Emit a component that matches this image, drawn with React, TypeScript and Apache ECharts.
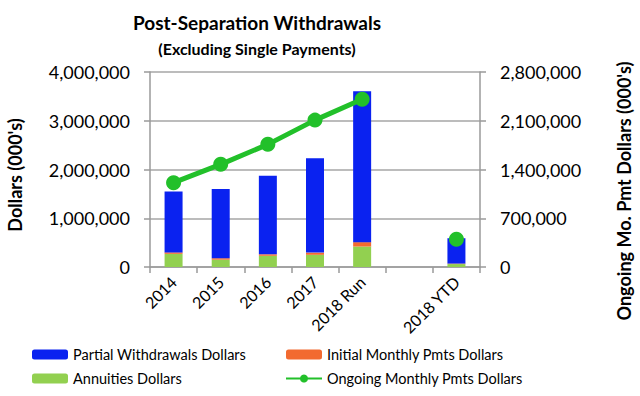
import React, { useEffect, useRef } from "react";
import * as echarts from "echarts";

const categories = ["2014", "2015", "2016", "2017", "2018 Run", "", "2018 YTD"];
const annuities = [270000, 150000, 230000, 250000, 420000, null, 60000];
const initialMonthly = [30000, 30000, 30000, 45000, 90000, null, 10000];
const partial = [1250000, 1420000, 1610000, 1935000, 3095000, null, 520000];
const ongoing = [1211000, 1474000, 1761000, 2109000, 2409000, null, 400000];

const FONT = "Lato";
const fmt = (v: number) => v.toLocaleString("en-US");

export default function App() {
  const ref = useRef<HTMLDivElement>(null);
  useEffect(() => {
    if (!ref.current) return;
    const chart = echarts.init(ref.current, null, { renderer: "svg" });
    const axisLineStyle = { color: "#9a9a9a", width: 1.5 };
    chart.setOption({
      animation: false,
      backgroundColor: "#ffffff",
      textStyle: { fontFamily: FONT },
      grid: { left: 150, right: 160, top: 72, bottom: 129 },
      graphic: [
        {
          type: "text",
          x: 257,
          y: 22,
          style: {
            text: "Post-Separation Withdrawals",
            font: `bold 19px ${FONT}`,
            fill: "#000",
            textAlign: "center",
            textVerticalAlign: "middle",
          },
        },
        {
          type: "text",
          x: 257,
          y: 48,
          style: {
            text: "(Excluding Single Payments)",
            font: `bold 16px ${FONT}`,
            fill: "#000",
            textAlign: "center",
            textVerticalAlign: "middle",
          },
        },
        {
          type: "text",
          x: 15,
          y: 175,
          rotation: Math.PI / 2,
          style: {
            text: "Dollars (000's)",
            font: `bold 18px ${FONT}`,
            fill: "#000",
            textAlign: "center",
            textVerticalAlign: "middle",
          },
        },
        {
          type: "text",
          x: 624,
          y: 191,
          rotation: Math.PI / 2,
          style: {
            text: "Ongoing Mo. Pmt Dollars (000's)",
            font: `bold 18px ${FONT}`,
            fill: "#000",
            textAlign: "center",
            textVerticalAlign: "middle",
          },
        },
      ],
      legend: [
        {
          orient: "vertical",
          left: 27,
          top: 342,
          itemWidth: 36,
          itemHeight: 10,
          itemGap: 9,
          textStyle: { fontFamily: FONT, fontSize: 14.5, color: "#000" },
          data: ["Partial Withdrawals Dollars", "Annuities Dollars"],
        },
        {
          orient: "vertical",
          left: 280,
          top: 342,
          itemWidth: 36,
          itemHeight: 10,
          itemGap: 9,
          textStyle: { fontFamily: FONT, fontSize: 14.5, color: "#000" },
          data: ["Initial Monthly Pmts Dollars", "Ongoing Monthly Pmts Dollars"],
        },
      ],
      xAxis: {
        type: "category",
        data: categories,
        axisLine: { lineStyle: axisLineStyle },
        axisTick: { show: true, length: 6, lineStyle: axisLineStyle },
        axisLabel: {
          rotate: 45,
          interval: 0,
          fontSize: 16,
          color: "#000",
          margin: 12,
          fontFamily: FONT,
        },
      },
      yAxis: [
        {
          type: "value",
          min: 0,
          max: 4000000,
          interval: 1000000,
          axisLine: { show: true, lineStyle: axisLineStyle },
          axisTick: { show: true, length: 6, lineStyle: axisLineStyle },
          splitLine: { show: true, lineStyle: { color: "#a6a6a6", width: 1.5 } },
          axisLabel: {
            formatter: fmt,
            fontSize: 18,
            color: "#000",
            margin: 20,
            fontFamily: FONT,
          },
        },
        {
          type: "value",
          min: 0,
          max: 2800000,
          interval: 700000,
          axisLine: { show: true, lineStyle: axisLineStyle },
          axisTick: { show: true, length: 6, lineStyle: axisLineStyle },
          splitLine: { show: false },
          axisLabel: {
            formatter: fmt,
            fontSize: 18,
            color: "#000",
            margin: 20,
            fontFamily: FONT,
          },
        },
      ],
      series: [
        {
          name: "Annuities Dollars",
          type: "bar",
          stack: "total",
          barWidth: 18,
          itemStyle: { color: "#92D050" },
          data: annuities,
        },
        {
          name: "Initial Monthly Pmts Dollars",
          type: "bar",
          stack: "total",
          barWidth: 18,
          itemStyle: { color: "#F26A30" },
          data: initialMonthly,
        },
        {
          name: "Partial Withdrawals Dollars",
          type: "bar",
          stack: "total",
          barWidth: 18,
          itemStyle: { color: "#0A22F0" },
          data: partial,
        },
        {
          name: "Ongoing Monthly Pmts Dollars",
          type: "line",
          yAxisIndex: 1,
          symbol: "circle",
          symbolSize: 15,
          connectNulls: false,
          lineStyle: { color: "#22C02A", width: 5 },
          itemStyle: { color: "#22C02A" },
          data: ongoing,
        },
      ],
    });
    return () => chart.dispose();
  }, []);
  return <div ref={ref} style={{ width: 640, height: 396, position: "absolute", left: 0, top: 0 }} />;
}
